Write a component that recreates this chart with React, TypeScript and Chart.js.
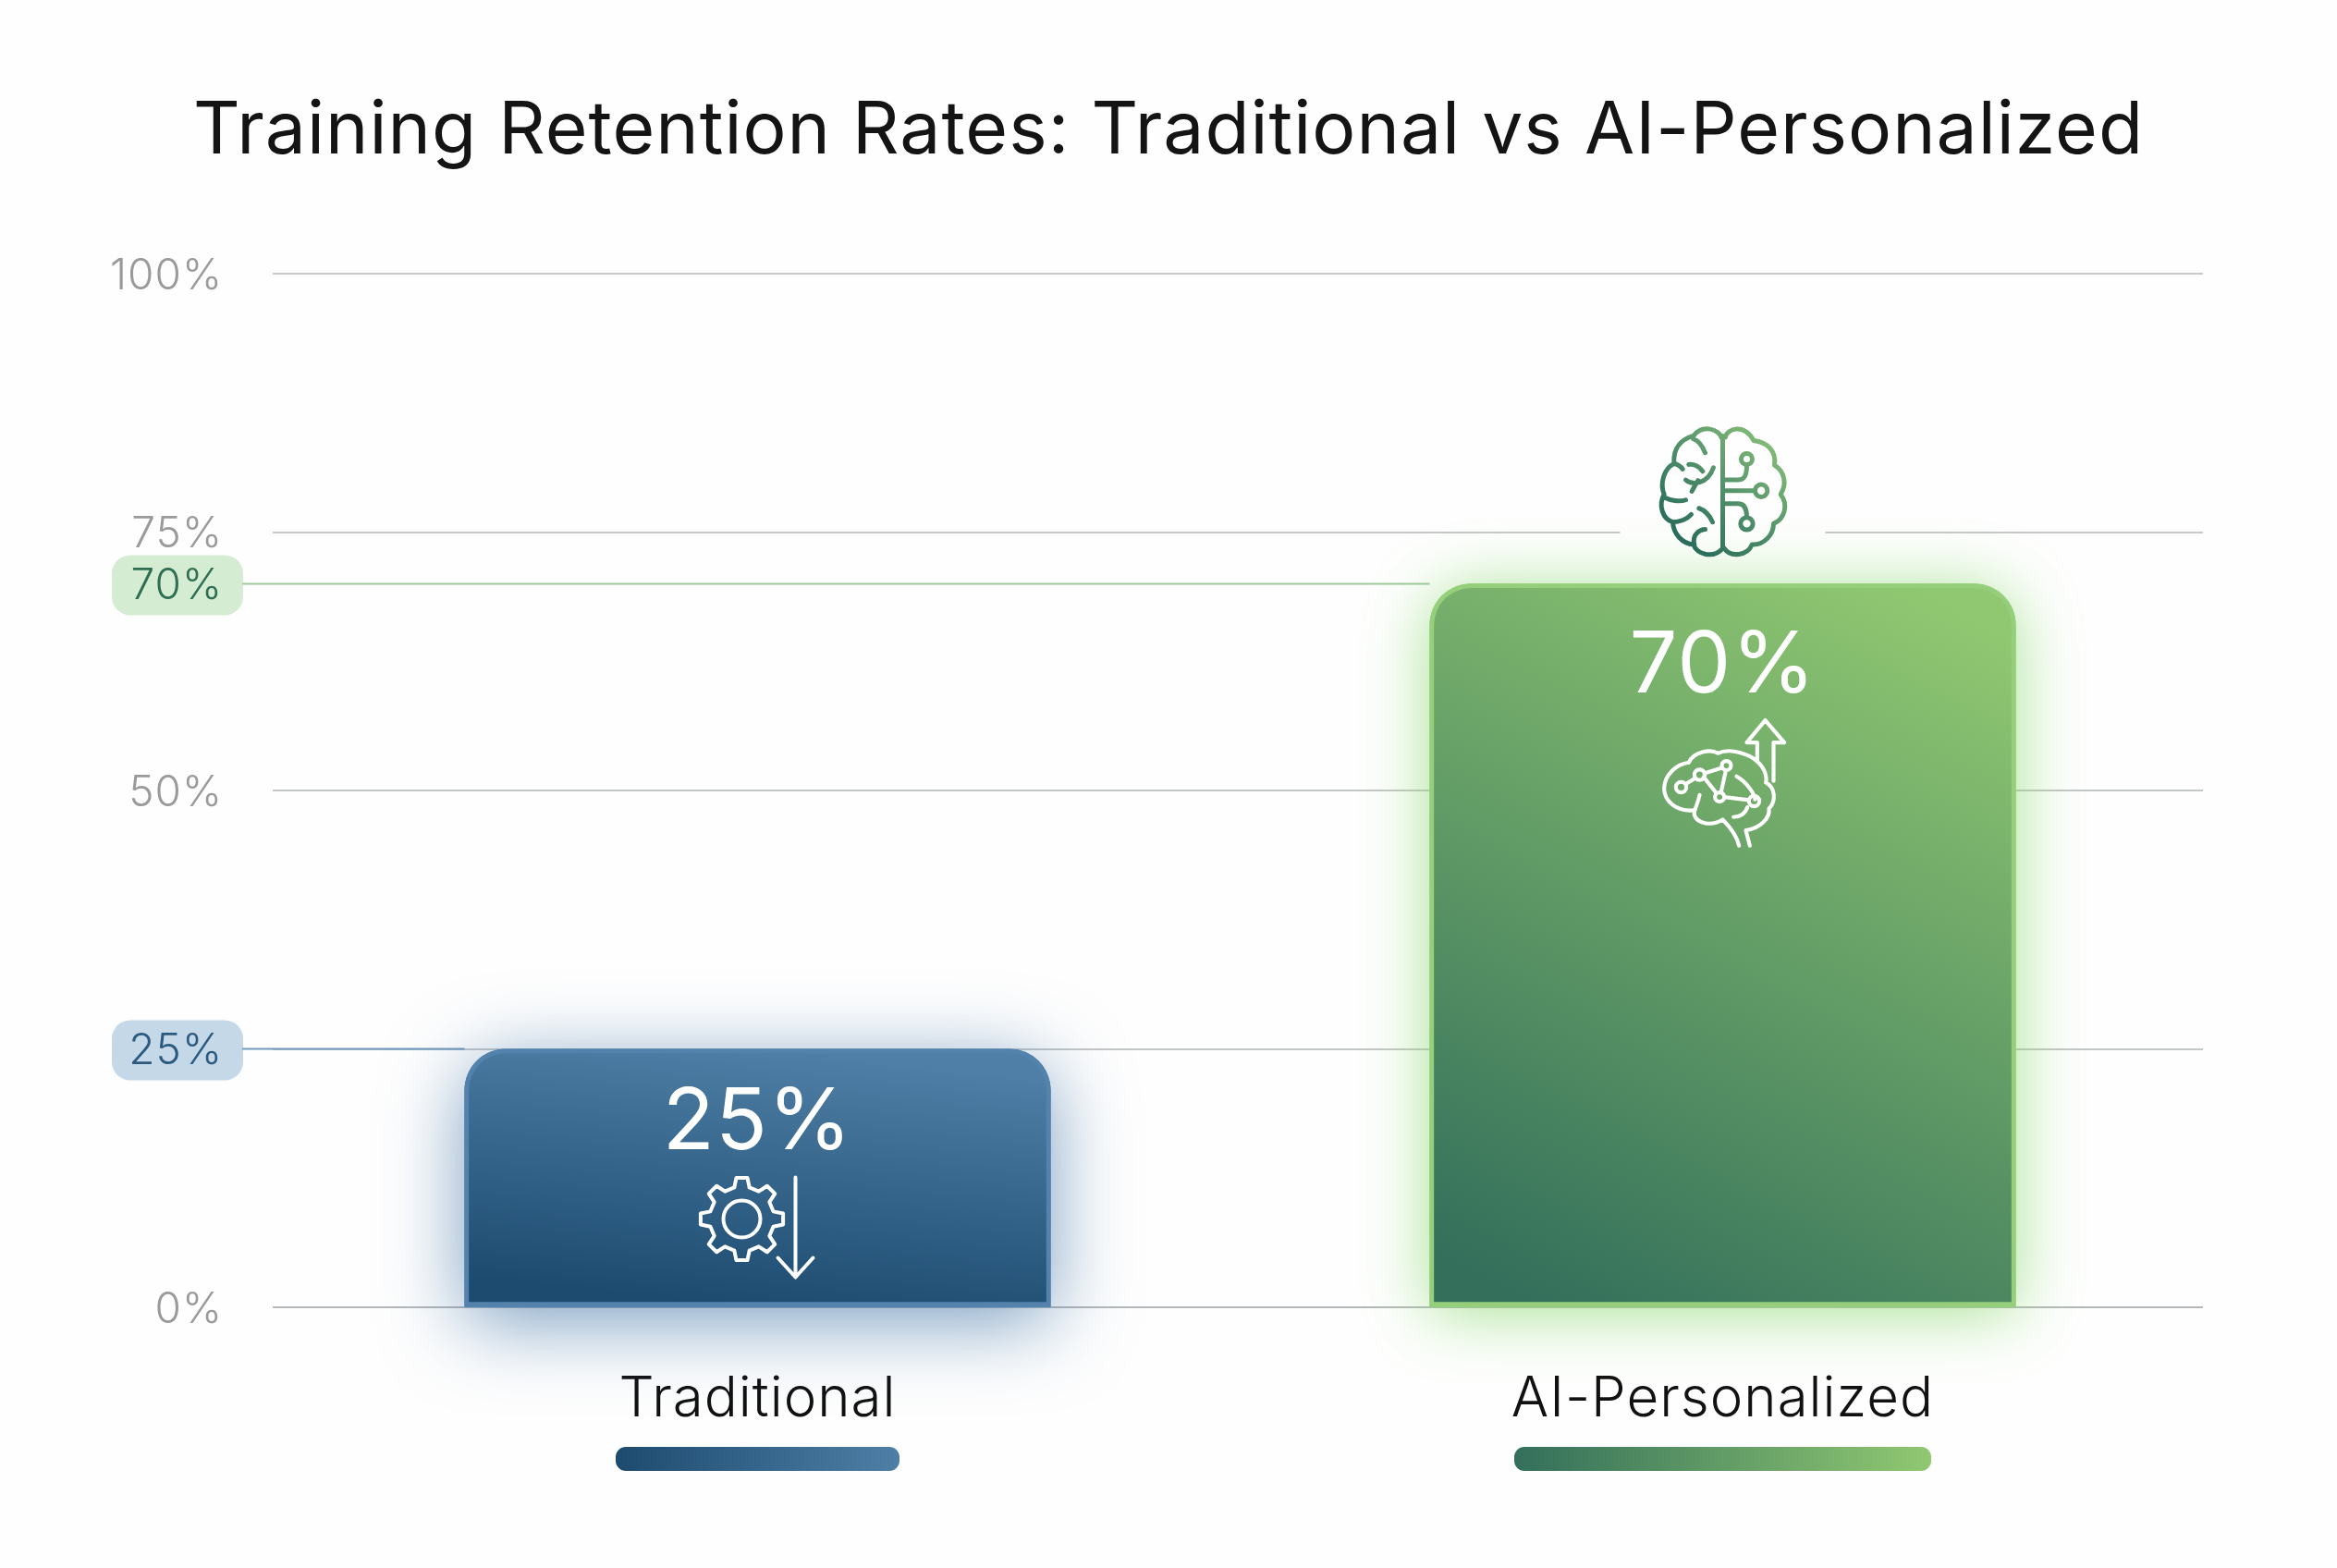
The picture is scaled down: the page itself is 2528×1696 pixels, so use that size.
import React, { useEffect, useRef } from "react";
import { Chart, registerables } from "chart.js";

Chart.register(...registerables);

const chartTitle = "Training Retention Rates: Traditional vs AI-Personalized";
const categories = ["Traditional", "AI-Personalized"];
const retention = [25, 70];
const yTicks = [0, 25, 50, 70, 75, 100];
const highlighted = [25, 70];

const FONT = "Inter, 'Noto Sans', sans-serif";
const BG = "#fefefe";
const themes = [
  { dark: "#1d4b70", light: "#4f7fa6", border: "#5383ad", glow: "rgba(44,100,155,0.62)", blur: 85, dy: 16, pill: "#c5d8e8", pillText: "#2b5a80", link: "#6f99bd", tilt: 30, underline: 307 },
  { dark: "#336f5b", light: "#90c871", border: "#95cf7c", glow: "rgba(135,215,105,0.72)", blur: 70, dy: 6, pill: "#d4ecd1", pillText: "#2f6e53", link: "#9cc79a", tilt: 400, underline: 451 },
];

const BAR_W = 634;
const RADIUS = 45;

const brainTop = [
  "M635 130C630 105 575 85 545 125C510 135 478 160 482 215C450 230 435 280 450 315C430 350 445 395 478 405C480 445 510 475 545 478C555 510 610 525 640 490",
  "M648 130C655 100 710 85 740 140C785 145 815 175 808 220C840 240 850 280 828 315C855 350 840 395 805 410C805 445 775 480 735 478C720 515 665 520 645 490",
  "M640 125L640 490",
  "M545 135C560 140 575 160 583 180",
  "M482 215C490 215 505 225 510 233",
  "M530 218C545 215 565 225 575 240",
  "M520 268C540 285 590 285 610 228",
  "M540 305C545 295 550 285 560 270",
  "M450 325C470 335 500 340 520 333",
  "M478 405C500 405 525 395 538 380",
  "M563 360C580 365 600 385 607 405",
  "M583 428C560 430 540 450 548 478",
  "M645 268L690 268C710 268 718 255 718 222",
  "M645 303L745 303",
  "M645 345L690 345C710 345 718 360 718 388",
  "M736 200A18 18 0 1 1 700 200A18 18 0 1 1 736 200",
  "M785 303A20 20 0 1 1 745 303A20 20 0 1 1 785 303",
  "M738 410A20 20 0 1 1 698 410A20 20 0 1 1 738 410",
].join(" ");

const brainInner = [
  "M752 1180L752 1120L718 1120L778 1048L840 1120L805 1120L805 1245",
  "M530 1185C490 1190 450 1225 450 1270C450 1310 490 1345 545 1340",
  "M548 1355C555 1380 600 1395 640 1370C660 1390 685 1420 693 1455",
  "M530 1185C545 1150 600 1140 625 1155C665 1135 730 1160 750 1180C775 1200 785 1230 780 1250C810 1265 815 1310 790 1335C795 1365 760 1400 715 1405L728 1455",
  "M565 1290C560 1320 545 1340 548 1355",
  "M675 1362C695 1362 715 1350 720 1330",
  "M685 1230C720 1250 745 1290 745 1305",
  "M520 1255L552 1235M580 1220L638 1202M578 1232L620 1285M650 1212L635 1280M645 1297L725 1307",
  "M522 1265A17 17 0 1 1 488 1265A17 17 0 1 1 522 1265",
  "M582 1225A17 17 0 1 1 548 1225A17 17 0 1 1 582 1225",
  "M667 1195A15 15 0 1 1 637 1195A15 15 0 1 1 667 1195",
  "M645 1297A15 15 0 1 1 615 1297A15 15 0 1 1 645 1297",
  "M759 1310A17 17 0 1 1 725 1310A17 17 0 1 1 759 1310",
].join(" ");

function gearPath(cx: number, cy: number) {
  const p = new Path2D();
  const n = 8, ro = 45, ri = 35;
  for (let i = 0; i < n; i++) {
    const a = (i / n) * Math.PI * 2 - Math.PI / 2;
    const w = (Math.PI * 2) / n;
    const pts: [number, number][] = [
      [ri, a - w * 0.3], [ro, a - w * 0.17], [ro, a + w * 0.17], [ri, a + w * 0.3],
    ];
    pts.forEach(([r, t], k) => {
      const x = cx + r * Math.cos(t), y = cy + r * Math.sin(t);
      if (i === 0 && k === 0) p.moveTo(x, y); else p.lineTo(x, y);
    });
  }
  p.closePath();
  p.moveTo(cx + 20, cy);
  p.arc(cx, cy, 20, 0, Math.PI * 2);
  return p;
}

function roundPill(ctx: CanvasRenderingContext2D, x: number, y: number, w: number, h: number, r: number, fill: any) {
  ctx.beginPath();
  ctx.roundRect(x, y, w, h, r);
  ctx.fillStyle = fill;
  ctx.fill();
}

const decorations = {
  id: "decorations",
  afterLayout(chart: any) {
    // the title is centred on the whole canvas; the category axis sits a little to the right
    if (chart.titleBlock) {
      chart.titleBlock.left = 0;
      chart.titleBlock.right = chart.width;
    }
    const xs = chart.scales.x;
    xs.left += 2.5;
    xs.right += 2.5;
    xs.configure();
  },
  beforeDatasetsDraw(chart: any) {
    const { ctx, scales } = chart;
    const { x: xs, y: ys } = scales;
    ctx.save();
    retention.forEach((v, i) => {
      const y = ys.getPixelForValue(v);
      const t = themes[i];
      const barLeft = xs.getPixelForValue(i) - BAR_W / 2;
      ctx.strokeStyle = t.link;
      ctx.lineWidth = 2;
      ctx.beginPath();
      ctx.moveTo(262, y);
      ctx.lineTo(barLeft, y);
      ctx.stroke();
    });
    const cx = xs.getPixelForValue(1);
    ctx.fillStyle = BG;
    ctx.fillRect(cx - 111, ys.getPixelForValue(75) - 4, 222, 8);
    retention.forEach((v, i) => {
      const t = themes[i];
      const x = xs.getPixelForValue(i) - BAR_W / 2;
      const y = ys.getPixelForValue(v);
      ctx.save();
      ctx.shadowColor = t.glow;
      ctx.shadowBlur = t.blur;
      ctx.shadowOffsetY = t.dy;
      ctx.beginPath();
      ctx.roundRect(x, y, BAR_W, ys.getPixelForValue(0) - y, [RADIUS, RADIUS, 0, 0]);
      ctx.fillStyle = t.border;
      ctx.fill();
      ctx.restore();
    });
    ctx.restore();
  },
  beforeDraw(chart: any) {
    const { ctx, scales } = chart;
    const ys = scales.y;
    (ctx as any).letterSpacing = "1px";
    ctx.save();
    retention.forEach((v, i) => {
      const y = ys.getPixelForValue(v);
      roundPill(ctx, 121, y - 31, 142, 65, 20, themes[i].pill);
    });
    ctx.restore();
  },
  afterDatasetsDraw(chart: any) {
    const { ctx, scales } = chart;
    const { x: xs, y: ys } = scales;
    ctx.save();
    ctx.textAlign = "center";
    ctx.textBaseline = "alphabetic";
    retention.forEach((v, i) => {
      const cx = xs.getPixelForValue(i);
      const top = ys.getPixelForValue(v);
      ctx.fillStyle = "#ffffff";
      ctx.font = `400 92px ${FONT}`;
      ctx.fillText(`${v}%`, cx, top + (i === 0 ? 108 : 118));
    });
    const cx1 = xs.getPixelForValue(1);
    const top1 = ys.getPixelForValue(retention[1]);
    ctx.save();
    ctx.translate(cx1, top1);
    ctx.scale(1 / 3, 1 / 3);
    ctx.translate(-640, -605);
    const g = ctx.createLinearGradient(450, 510, 840, 100);
    g.addColorStop(0, "#1b6055");
    g.addColorStop(0.45, "#4b8a68");
    g.addColorStop(1, "#92c87c");
    ctx.strokeStyle = g;
    ctx.lineWidth = 15;
    ctx.lineCap = "round";
    ctx.lineJoin = "round";
    ctx.stroke(new Path2D(brainTop));
    ctx.restore();
    ctx.save();
    ctx.translate(cx1, top1);
    ctx.scale(1 / 3, 1 / 3);
    ctx.translate(-640, -605);
    ctx.strokeStyle = "#ffffff";
    ctx.lineWidth = 12.5;
    ctx.lineCap = "round";
    ctx.lineJoin = "round";
    ctx.stroke(new Path2D(brainInner));
    ctx.restore();
    const cx0 = xs.getPixelForValue(0);
    const top0 = ys.getPixelForValue(retention[0]);
    ctx.save();
    ctx.translate(cx0, top0);
    ctx.strokeStyle = "#ffffff";
    ctx.lineWidth = 4;
    ctx.lineJoin = "round";
    ctx.lineCap = "round";
    ctx.stroke(gearPath(-17, 184));
    ctx.beginPath();
    ctx.moveTo(41, 139);
    ctx.lineTo(41, 246);
    ctx.moveTo(22, 226);
    ctx.lineTo(41, 247);
    ctx.lineTo(60, 226);
    ctx.stroke();
    ctx.restore();
    ctx.restore();
  },
  afterDraw(chart: any) {
    const { ctx, scales } = chart;
    const xs = scales.x;
    ctx.save();
    categories.forEach((c, i) => {
      const w = themes[i].underline;
      const x = xs.getPixelForValue(i) - w / 2;
      const g = ctx.createLinearGradient(x, 0, x + w, 0);
      g.addColorStop(0, themes[i].dark);
      g.addColorStop(1, themes[i].light);
      roundPill(ctx, x, 1565, w, 26, 11, g);
    });
    ctx.restore();
  },
};

export default function App() {
  const ref = useRef<HTMLCanvasElement | null>(null);
  useEffect(() => {
    document.body.style.margin = "0";
    document.body.style.background = BG;
    const canvas = ref.current!;
    const chart = new Chart(canvas, {
      type: "bar",
      data: {
        labels: categories,
        datasets: [
          {
            label: "Retention rate",
            data: retention,
            barThickness: BAR_W,
            borderWidth: 5,
            borderSkipped: false,
            borderRadius: { topLeft: RADIUS, topRight: RADIUS, bottomLeft: 0, bottomRight: 0 },
            borderColor: (c: any) => themes[c.dataIndex]?.border ?? "#888",
            backgroundColor: (c: any) => {
              const { chart: ch, dataIndex: i } = c;
              const t = themes[i];
              if (!t) return "#888";
              const { x: xs, y: ys } = ch.scales;
              if (!xs || !ys) return t.dark;
              const cx = xs.getPixelForValue(i);
              const y0 = ys.getPixelForValue(0);
              const y1 = ys.getPixelForValue(retention[i]);
              if (![cx, y0, y1].every(Number.isFinite)) return t.dark;
              const g = ch.ctx.createLinearGradient(cx - t.tilt / 2, y0, cx + t.tilt / 2, y1);
              g.addColorStop(0, t.dark);
              g.addColorStop(1, t.light);
              return g;
            },
            clip: false,
          } as any,
        ],
      },
      options: {
        responsive: false,
        animation: false,
        events: [],
        layout: { padding: { top: 0, left: 0, right: 145, bottom: 0 } },
        plugins: {
          legend: { display: false },
          tooltip: { enabled: false },
          title: {
            display: true,
            text: chartTitle,
            color: "#141414",
            font: { family: FONT, size: 78.6, weight: "400", lineHeight: 1.2 },
            padding: { top: 95, bottom: 106.7 },
          },
        },
        scales: {
          x: {
            type: "category",
            grid: { display: false },
            border: { display: false },
            afterFit(s: any) { s.height = 282; },
            ticks: {
              color: "#111111",
              font: { family: FONT, size: 60, weight: "300" },
              padding: 56,
              maxRotation: 0,
              autoSkip: false,
            },
          },
          y: {
            type: "linear",
            min: 0,
            max: 100,
            afterFit(s: any) { s.width = 295; },
            afterBuildTicks(s: any) { s.ticks = yTicks.map((value) => ({ value })); },
            border: { display: false },
            grid: {
              drawTicks: false,
              lineWidth: 2,
              color: (c: any) => {
                const v = c.tick?.value;
                return v === 70 ? "rgba(0,0,0,0)" : v === 0 ? "#b4b8ba" : "#c4c7c8";
              },
            },
            ticks: {
              autoSkip: false,
              padding: 54,
              labelOffset: 3,
              font: { family: FONT, size: 46, weight: "300" },
              color: (c: any) => {
                const i = highlighted.indexOf(c.tick?.value);
                return i >= 0 ? themes[i].pillText : "#9a9a9a";
              },
              callback: (v: any) => `${v}%`,
            },
          },
        },
      },
      plugins: [decorations],
    } as any);
    return () => chart.destroy();
  }, []);
  return <canvas ref={ref} width={2528} height={1696} style={{ display: "block" }} />;
}
